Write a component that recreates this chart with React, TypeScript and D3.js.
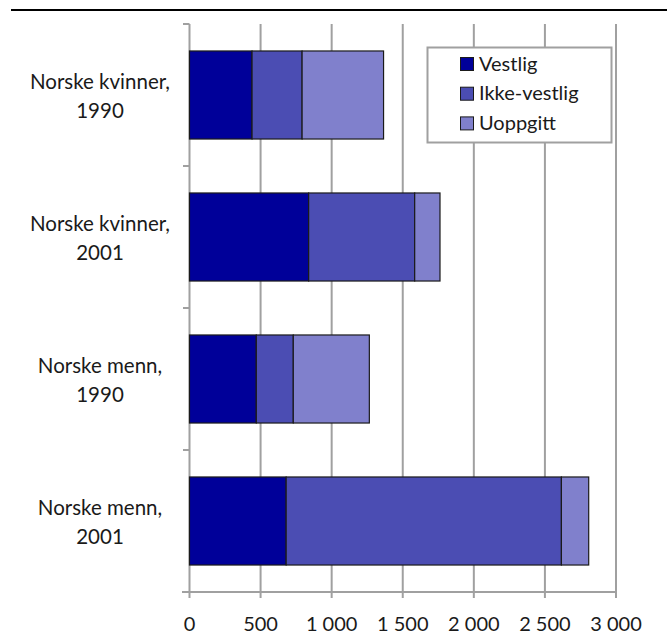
import React from "react";
import * as d3 from "d3";

const categories = [
  ["Norske kvinner,", "1990"],
  ["Norske kvinner,", "2001"],
  ["Norske menn,", "1990"],
  ["Norske menn,", "2001"],
];
const seriesNames = ["Vestlig", "Ikke-vestlig", "Uoppgitt"];
const vestlig = [440, 838, 470, 680];
const ikkeVestlig = [352, 746, 260, 1936];
const uoppgitt = [573, 178, 535, 192];
const xTicks = [0, 500, 1000, 1500, 2000, 2500, 3000];
const colors = ["#000099", "#4b4db3", "#8080cc"];

const W = 667;
const H = 637;

export default function App() {
  const x = d3.scaleLinear().domain([0, 3000]).range([189.5, 616]);
  const keys = categories.map((c) => c.join(" "));
  const y = d3.scaleBand().domain(keys).range([24, 592]).paddingInner(0.38).paddingOuter(0.19);
  const series = [vestlig, ikkeVestlig, uoppgitt];
  const rows = keys.map((k, i) => {
    let acc = 0;
    return series.map((s, j) => {
      const x0 = acc;
      acc += s[i];
      return { key: k, j, x0, x1: acc };
    });
  });
  const fmt = (v: number) => d3.format(",")(v).replace(/,/g, " ");
  const gridColor = "#a0a0a0";
  const font = "Lato, sans-serif";
  const step = y.step();
  const tickYs = d3.range(5).map((i) => 24 + i * step);

  return (
    <svg width={W} height={H} style={{ position: "absolute", left: 0, top: 0, fontFamily: font }}>
      <rect width={W} height={H} fill="#fff" />
      <line x1={11} x2={667} y1={10} y2={10} stroke="#000" strokeWidth={2} />
      {xTicks.map((t) => (
        <g key={t}>
          {t > 0 && <line x1={x(t)} x2={x(t)} y1={24} y2={592} stroke={gridColor} strokeWidth={2} />}
          <line x1={x(t)} x2={x(t)} y1={592} y2={598} stroke={gridColor} strokeWidth={2} />
          <text x={x(t)} y={631} textAnchor="middle" fontSize={20} fill="#1a1a1a">
            {fmt(t)}
          </text>
        </g>
      ))}
      <line x1={x(0)} x2={x(0)} y1={24} y2={592} stroke={gridColor} strokeWidth={2} />
      <line x1={182} x2={617} y1={592} y2={592} stroke={gridColor} strokeWidth={2} />
      {tickYs.map((ty, i) => (
        <line key={i} x1={183} x2={x(0)} y1={ty} y2={ty} stroke={gridColor} strokeWidth={2} />
      ))}
      {rows.map((r) =>
        r.map((d) => (
          <rect
            key={d.key + d.j}
            x={x(d.x0)}
            y={y(d.key)!}
            width={x(d.x1) - x(d.x0)}
            height={y.bandwidth()}
            fill={colors[d.j]}
            stroke="#1a1a1a"
            strokeWidth={1.2}
          />
        ))
      )}
      {categories.map((c, i) => {
        const cy = y(keys[i])! + y.bandwidth() / 2;
        return (
          <text key={i} x={100} textAnchor="middle" fontSize={20.5} fill="#1a1a1a">
            <tspan x={100} y={cy - 6}>{c[0]}</tspan>
            <tspan x={100} y={cy + 23}>{c[1]}</tspan>
          </text>
        );
      })}
      <g>
        <rect x={427.5} y={47.5} width={184} height={95} fill="#fff" stroke={gridColor} strokeWidth={2} />
        {seriesNames.map((n, i) => (
          <g key={n} transform={`translate(0, ${64 + i * 29.7})`}>
            <rect x={460.5} y={-6.5} width={13} height={13} fill={colors[i]} stroke="#1a1a1a" strokeWidth={1} />
            <text x={479} y={6.7} fontSize={20} fill="#1a1a1a">
              {n}
            </text>
          </g>
        ))}
      </g>
    </svg>
  );
}
